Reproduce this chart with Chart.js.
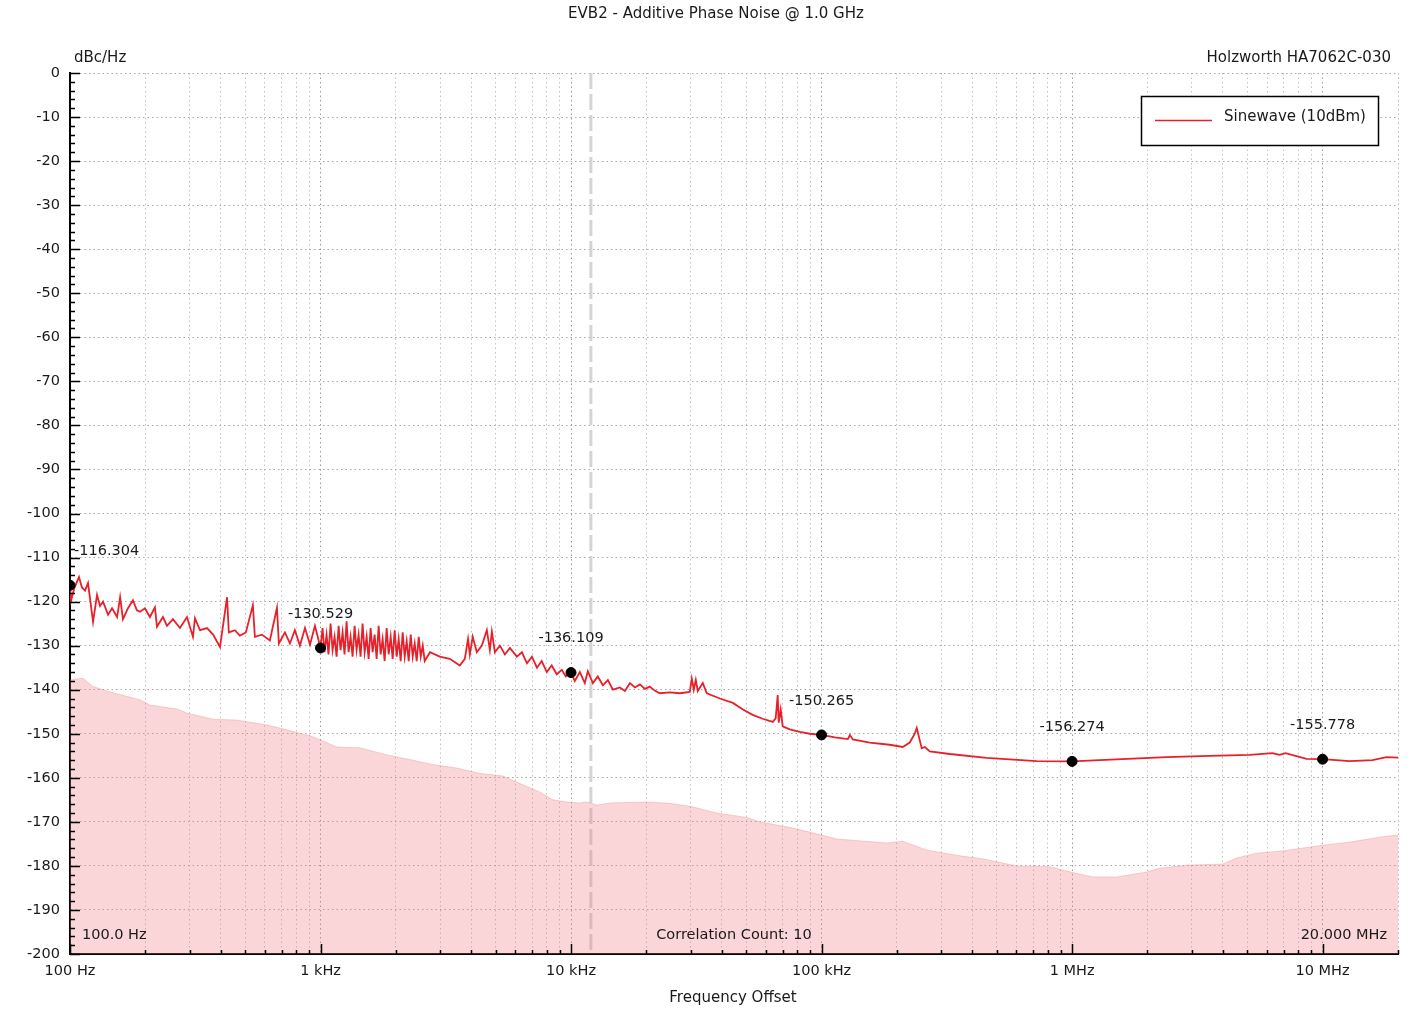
<!DOCTYPE html>
<html>
<head>
<meta charset="utf-8">
<title>EVB2 - Additive Phase Noise @ 1.0 GHz</title>
<script src="https://cdn.jsdelivr.net/npm/chart.js@4.4.1/dist/chart.umd.min.js"></script>
<style>
  html, body { margin: 0; padding: 0; background: #fff; }
</style>
</head>
<body>
<canvas id="myChart" width="1410" height="1013"></canvas>
<script>
// measured trace (offset frequency in Hz, level in dBc/Hz)
const traceFreq = [
  100, 101, 104, 108.6, 111.6, 114.8, 118, 123.6, 128.2, 131.8, 135.5, 141.9, 147.2, 154.2, 158.5, 162.7,
  170.4, 178.3, 185, 190.2, 199.2, 208.5, 218.3, 222.4, 235, 243.8, 257.6, 274.8, 293, 304, 309.6, 315.4,
  330.4, 352.4, 372.4, 397, 423.6, 430.5, 455, 476.4, 503.5, 537, 547, 583.4, 628, 670, 682, 721, 755, 790,
  827.5, 867, 908, 950, 1000,
  1019, 1037, 1057, 1076, 1097, 1117, 1138, 1159, 1181, 1202, 1225, 1247, 1271, 1294, 1318, 1343, 1368,
  1393, 1419, 1445, 1472, 1500, 1528, 1556, 1585, 1614, 1644, 1675, 1706, 1738, 1770, 1803, 1837, 1871,
  1906, 1941, 1977, 2014, 2051, 2089, 2128, 2168, 2208, 2249, 2291, 2333, 2377, 2421, 2466, 2512, 2559, 2606,
  2735, 2992, 3281, 3597, 3767, 3880, 3945, 4050, 4207, 4406, 4613, 4742, 4830, 4966, 5200, 5445, 5702,
  6080, 6368, 6668, 6982, 7311, 7638, 8000, 8375, 8770, 9184, 9530, 10000,
  10350, 10840, 11350, 11670, 12220, 12790, 13400, 14030, 14690, 15670, 16410, 17180, 17990, 18840, 19720,
  20610, 21580, 22600, 24780, 27170, 29790, 30340, 30900, 31480, 32060, 33570, 34830, 39270, 44260, 48530,
  53090, 58210, 63830, 65610, 66830, 67450, 68700, 69980, 74640, 81850, 89760, 100000,
  112900, 127400, 129700, 133400, 155600, 187000, 210900, 225000, 235500, 239900, 246600, 251200, 258200,
  270400, 325000, 456000, 722000, 1000000,
  1288000, 2383000, 3540000, 5117000, 6310000, 6730000, 7110000, 8630000, 10000000, 12820000, 15820000,
  17990000, 20000000
];
const sinewave = [
  -116.3, -119.8, -117, -114.4, -116.8, -117.5, -115.8, -124.6, -118.5, -121, -120, -123, -121.5, -123.5, -119, -124,
  -121.5, -119.7, -122, -122.3, -121.5, -123.5, -121.3, -125.7, -123.5, -125.5, -124, -126, -123.5, -126.5, -128, -123.8,
  -126.5, -126, -127.5, -130.3, -119, -127, -126.5, -127.7, -127, -120.8, -128, -127.5, -128.8, -121.4, -129.5, -127, -129.5, -126.5,
  -130, -126, -129.8, -125.5, -130.5,
  -126, -131.5, -127.5, -132, -125, -131, -128, -132.5, -125.5, -131, -127, -132, -124.5, -131.5, -128, -132.5, -125.5,
  -131, -127.5, -132.5, -125, -131.5, -128, -133, -126, -131.5, -127.5, -133, -125.5, -132, -128.5, -133.5, -126, -132,
  -128, -133, -126.5, -132.5, -128.5, -133.5, -127, -132.5, -129, -133.5, -127.5, -132.5, -129.5, -133.5, -128, -132.5, -130, -133.5,
  -131.5, -132.5, -133, -134.5, -133, -128.5, -132, -128, -131.5, -130, -126.5, -131, -126.8, -131.5, -130, -132, -130.5,
  -132.5, -131.5, -134, -132.5, -135, -133.5, -136, -134.5, -136.5, -135.5, -137, -136.1,
  -138, -136, -138.5, -135.8, -138.5, -137, -139, -137.8, -140, -139.5, -140.3, -138.5, -139.5, -138.8, -139.8,
  -139.3, -140.2, -140.8, -140.6, -140.8, -140.5, -137.5, -140, -137.8, -140.3, -138.5, -140.8, -142, -143, -144.5,
  -145.7, -146.6, -147.3, -146.5, -141.2, -147.5, -144.5, -148.3, -149, -149.6, -150, -150.265,
  -150.8, -151.2, -150.3, -151.3, -152, -152.5, -153, -152, -150, -148.7, -151.5, -153.3, -153,
  -154, -154.6, -155.5, -156.2, -156.274,
  -156, -155.3, -155, -154.8, -154.4, -154.8, -154.4, -155.7, -155.778, -156.2, -156,
  -155.3, -155.4
];

// instrument noise floor
const floorFreq = [
  100, 103.7, 112.7, 123.6, 144.4, 190.2, 208.5, 267.3, 293, 372.4, 463.5, 611, 734.5, 933,
  1161, 1436, 1841, 2339, 2812, 3500, 4325, 5346, 6427, 7499, 8453, 9616,
  10840, 11560, 12680, 14290, 20050, 24780, 30620, 38190, 50240, 56620, 76740, 92260,
  115100, 182000, 210900, 263000, 355600, 439500, 601000, 814600,
  1005000, 1208000, 1507000, 1986000, 2239000, 2944000, 3990000, 4539000, 5458000, 6918000,
  10000000, 12820000, 17340000, 20000000
];
const floorLevel = [
  -137.8, -137.6, -137.4, -139.3, -140.5, -142.3, -143.5, -144.4, -145.3, -146.7, -146.9, -148, -149.1, -150.7,
  -153, -153.2, -154.8, -156, -157, -157.8, -159, -159.6, -161.6, -163.2, -165, -165.5,
  -165.7, -165.5, -166.2, -165.7, -165.5, -165.8, -166.6, -168, -169, -170, -171.4, -172.5,
  -173.9, -174.8, -174.4, -176.4, -177.7, -178.4, -180, -180.2,
  -181.5, -182.5, -182.5, -181.4, -180.5, -179.8, -179.6, -178.2, -177.1, -176.6,
  -175.3, -174.6, -173.4, -173
];

// decade markers
const markerFreq = [100, 1000, 10000, 100000, 1000000, 10000000];
const markerLevel = [-116.304, -130.529, -136.109, -150.265, -156.274, -155.778];

const xTickValues = [100, 1000, 10000, 100000, 1000000, 10000000];
const xTickLabels = ["100 Hz", "1 kHz", "10 kHz", "100 kHz", "1 MHz", "10 MHz"];
const xMax = 20000000;
const segmentFreq = 12000;

const FONT = '"DejaVu Sans", "Liberation Sans", Arial, sans-serif';
const TEXT = "#1a1a1a";

// grid frequencies: 1..9 per decade
const gridFreqs = [];
xTickValues.forEach((d) => {
  for (let m = 1; m <= 9; m++) {
    if (m * d <= xMax) gridFreqs.push(m * d);
  }
});
gridFreqs.push(xMax);

const toPoints = (xs, ys) => xs.map((x, i) => ({ x, y: ys[i] }));

const decor = {
  id: "decor",
  beforeDatasetsDraw(chart) {
    const { ctx, chartArea, scales } = chart;
    const x = scales.x.getPixelForValue(segmentFreq);
    ctx.save();
    ctx.strokeStyle = "rgba(210,210,210,0.95)";
    ctx.lineWidth = 3;
    ctx.setLineDash([16, 5]);
    ctx.beginPath();
    ctx.moveTo(x, chartArea.top);
    ctx.lineTo(x, chartArea.bottom);
    ctx.stroke();
    ctx.restore();
  },
  afterDatasetsDraw(chart) {
    const { ctx } = chart;
    const meta = chart.getDatasetMeta(0);
    ctx.save();
    ctx.font = `14.5px ${FONT}`;
    ctx.fillStyle = TEXT;
    ctx.textBaseline = "middle";
    meta.data.forEach((pt, i) => {
      const txt = markerLevel[i].toFixed(3);
      if (i === 0) {
        ctx.textAlign = "left";
        ctx.fillText(txt, pt.x + 4, pt.y - 34);
      } else {
        ctx.textAlign = "center";
        ctx.fillText(txt, pt.x, pt.y - 34);
      }
    });
    ctx.restore();
  },
  afterDraw(chart) {
    const { ctx, chartArea, scales } = chart;
    const { left, right, top, bottom } = chartArea;
    ctx.save();

    // inward axis ticks
    ctx.strokeStyle = "#000";
    ctx.lineWidth = 1.5;
    ctx.beginPath();
    for (let v = -200; v <= 0; v += 2) {
      const y = Math.round(scales.y.getPixelForValue(v)) + 0.5;
      const len = v % 10 === 0 ? 10 : 5;
      ctx.moveTo(left, y);
      ctx.lineTo(left + len, y);
    }
    gridFreqs.forEach((f) => {
      const x = Math.round(scales.x.getPixelForValue(f)) + 0.5;
      const len = xTickValues.includes(f) ? 10 : 4;
      ctx.moveTo(x, bottom);
      ctx.lineTo(x, bottom - len);
    });
    ctx.stroke();

    // texts
    ctx.fillStyle = TEXT;
    ctx.textBaseline = "middle";
    ctx.font = `15px ${FONT}`;
    ctx.textAlign = "center";
    ctx.fillText("EVB2 - Additive Phase Noise @ 1.0 GHz", 716, 14);
    ctx.fillText("Frequency Offset", 733, 998);
    ctx.textAlign = "left";
    ctx.fillText("dBc/Hz", 74, 58);
    ctx.textAlign = "right";
    ctx.fillText("Holzworth HA7062C-030", 1391, 58);

    ctx.font = `14.5px ${FONT}`;
    ctx.textAlign = "left";
    ctx.fillText("100.0 Hz", left + 12, bottom - 19);
    ctx.textAlign = "center";
    ctx.fillText("Correlation Count: 10", (left + right) / 2, bottom - 19);
    ctx.textAlign = "right";
    ctx.fillText("20.000 MHz", right - 11, bottom - 19);

    // legend box
    ctx.fillStyle = "#fff";
    ctx.fillRect(1141, 96, 237, 49);
    ctx.strokeStyle = "#000";
    ctx.lineWidth = 1.5;
    ctx.strokeRect(1141.5, 96.5, 237, 49);
    ctx.strokeStyle = "#e8202a";
    ctx.beginPath();
    ctx.moveTo(1155, 120.5);
    ctx.lineTo(1212, 120.5);
    ctx.stroke();
    ctx.fillStyle = TEXT;
    ctx.font = `15px ${FONT}`;
    ctx.textAlign = "left";
    ctx.fillText("Sinewave (10dBm)", 1224, 117);

    ctx.restore();
  },
};

const canvas = document.getElementById("myChart").getContext("2d");
const myChart = new Chart(canvas, {
  type: "line",
  data: {
    datasets: [
      {
        label: "Markers",
        data: toPoints(markerFreq, markerLevel),
        showLine: false,
        pointRadius: 5,
        pointBackgroundColor: "#000",
        pointBorderColor: "#000",
        order: 0,
      },
      {
        label: "Sinewave (10dBm)",
        data: toPoints(traceFreq, sinewave),
        borderColor: "#e8202a",
        borderWidth: 1.8,
        pointRadius: 0,
        tension: 0,
        fill: false,
        order: 1,
      },
      {
        label: "Noise floor",
        data: toPoints(floorFreq, floorLevel),
        borderColor: "rgba(240,130,140,0.35)",
        borderWidth: 1,
        backgroundColor: "rgba(240,120,130,0.3)",
        pointRadius: 0,
        tension: 0,
        fill: "start",
        order: 2,
      },
    ],
  },
  options: {
    responsive: false,
    animation: false,
    events: [],
    layout: { padding: { top: 73, right: 12, left: 0, bottom: 0 } },
    plugins: {
      legend: { display: false },
      title: { display: false },
      tooltip: { enabled: false },
    },
    scales: {
      x: {
        type: "logarithmic",
        position: "bottom",
        min: 100,
        max: xMax,
        afterBuildTicks: (scale) => {
          scale.ticks = gridFreqs.map((value) => ({ value }));
        },
        afterFit: (scale) => {
          scale.height = 59;
        },
        ticks: {
          autoSkip: false,
          maxRotation: 0,
          padding: 9,
          color: TEXT,
          font: { family: FONT, size: 14.5 },
          callback: (value) => {
            const i = xTickValues.indexOf(value);
            return i >= 0 ? xTickLabels[i] : "";
          },
        },
        grid: {
          drawTicks: false,
          lineWidth: 1,
          color: (ctx) =>
            ctx.tick && xTickValues.includes(ctx.tick.value) ? "#9a9a9a" : "#c2c2c2",
        },
        border: { display: true, color: "#000", width: 2, dash: [1.5, 3] },
      },
      y: {
        type: "linear",
        min: -200,
        max: 0,
        afterFit: (scale) => {
          scale.width = 70;
        },
        ticks: {
          stepSize: 10,
          padding: 10,
          color: TEXT,
          font: { family: FONT, size: 14.5 },
        },
        grid: {
          drawTicks: false,
          lineWidth: 1,
          color: "#a8a8a8",
        },
        border: { display: true, color: "#000", width: 2, dash: [1.5, 3] },
      },
    },
  },
  plugins: [decor],
});
</script>
</body>
</html>
